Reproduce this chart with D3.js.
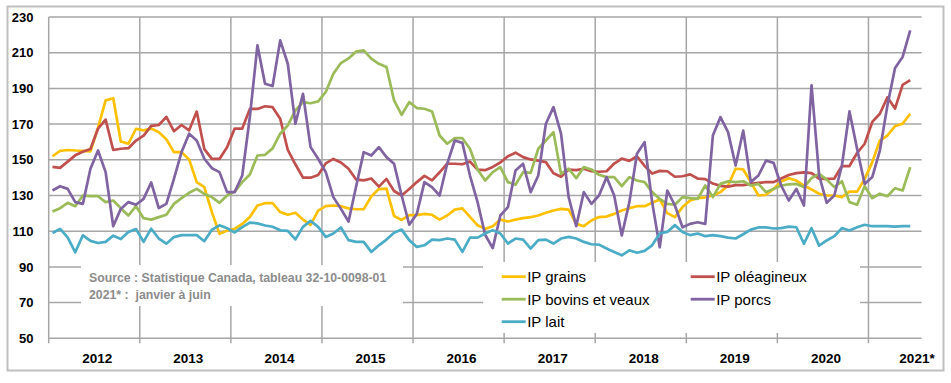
<!DOCTYPE html>
<html lang="fr">
<head>
<meta charset="utf-8">
<script src="https://cdn.jsdelivr.net/npm/d3@7"></script>
<style>
    body { margin: 0; background: #fff; }
    svg { display: block; font-family: "Liberation Sans", Arial, sans-serif; }
</style>
</head>
<body>
<div id="chart"></div>
<script>
// months from Jan 2012 to Jun 2021 (114), the axis keeps one empty slot at the end
const monthSlots = 115;
const yearLabels = ['2012', '2013', '2014', '2015', '2016', '2017', '2018', '2019', '2020', '2021*'];
const yTicks = [50, 70, 90, 110, 130, 150, 170, 190, 210, 230];

const ipGrains = [
    152, 155, 155.5, 155.2, 155, 154.7, 168, 183.3, 184.5, 160.3, 159, 167.4,
    166.5, 167.5, 165.5, 161.5, 154.3, 154.3, 150.2, 137.5, 134.7, 120.7, 108.5, 110.4,
    111.3, 114.1, 117.9, 124.4, 125.7, 125.7, 120.7, 119.2, 120.3, 116.5, 113.5, 121.5,
    124, 124.4, 124, 122.8, 122.3, 122.3, 129.5, 133.6, 133.8, 118.5, 116.3, 119,
    119, 119.7, 119.2, 116.5, 118.8, 122.1, 122.8, 118, 113.3, 111.3, 112.8, 116.5,
    115.4, 116.5, 117.3, 117.9, 118.8, 120.3, 121.6, 122.5, 122.1, 114.1, 112.8, 116,
    117.9, 118.2, 119.7, 121.6, 122.9, 124, 124, 125.9, 127.8, 120.1, 117.9, 123.5,
    127.2, 128.5, 129, 130, 131.9, 135.6, 145, 144.6, 137.5, 130, 130.4, 133.7,
    137.9, 139.7, 138.4, 135.6, 133.4, 131, 130, 130, 129.1, 132.2, 132.2, 139.3,
    148.7, 160.8, 163.6, 168.9, 170.2, 175.8
];
const ipOleagineux = [
    146, 145.5, 149, 152.5, 154.5, 156, 167.5, 172.5, 155.5, 156.2, 156.5, 160.8,
    163.5, 169, 169.5, 174, 166, 169.5, 166.5, 177, 156, 150.5, 150.5, 157,
    167.5, 167.5, 178.5, 178.5, 180, 179.5, 173, 155.5, 147.5, 140, 140, 141.5,
    148, 150.5, 148.5, 145, 139, 138.5, 139.5, 135, 139.3, 132.5, 130, 133.7,
    137.5, 141, 138.5, 143, 147.8, 147.8, 147.5, 149, 144.5, 144.2, 146, 148.5,
    152, 154, 151.5, 150.2, 149.5, 148.7, 142.5, 140.5, 144.5, 144.2, 145, 143.6,
    143.3, 143.6, 147.9, 150.7, 149.4, 152, 146.6, 142.3, 143.8, 143.6, 140.5, 140.8,
    141.8, 139.5, 139.2, 136.7, 135.4, 135, 135.8, 135.8, 136.5, 137.1, 137.5, 137.5,
    139.5, 141.5, 142.5, 143, 142.5, 139.5, 139.3, 139.5, 146.5, 146.5, 153.8, 159,
    171.2, 175.8, 185, 178.7, 192, 194.6
];
const ipBovins = [
    121, 122.9, 125.9, 124, 130, 129.6, 129.6, 126.3, 127.2, 122.9, 118.8, 124,
    117.3, 116.5, 117.9, 119.2, 125.3, 128.5, 131.5, 133.7, 130.9, 129.1, 125.9, 130,
    132.2, 137.5, 141.8, 152.4, 152.8, 156.4, 164.6, 169.3, 177.7, 182.3, 181.7, 182.7,
    188, 198.2, 204.2, 206.8, 210.6, 211.3, 206.7, 203.8, 202, 183.3, 175.2, 182.3,
    179, 178.6, 177.1, 163.6, 159, 162.1, 162.1, 156.2, 144.6, 138.4, 143.1, 145.9,
    137.5, 136, 143.1, 142.7, 156.2, 160.8, 165.5, 142.1, 145, 139.7, 145.9, 144.6,
    141.6, 140.3, 140.3, 135.2, 140.3, 138.4, 137.5, 131.9, 128.1, 125.3, 124.8, 129.1,
    128.5, 128.1, 135.6, 129.1, 136.5, 137.9, 137.5, 138, 135.6, 136.5, 131.9, 133.7,
    135.6, 136.2, 136.5, 134.7, 139.7, 142.1, 138.9, 134.7, 138, 126.3, 124.8, 135.2,
    128.5, 131, 129.6, 134.1, 132.8, 145.9
];
const ipPorcs = [
    132.8, 135.2, 133.7, 126.3, 125.3, 145, 155.2, 143.1, 112.8, 122.5, 126.3, 124.8,
    128.1, 137.3, 123, 125.3, 139.3, 154.3, 164.6, 160.8, 150.6, 145.3, 143.1, 131.9,
    131.9, 141.2, 174, 214.1, 192.6, 191.3, 216.9, 203.8, 170.2, 187, 157.1, 150.6,
    143.1, 129.1, 122.5, 115.4, 135, 154.3, 152.4, 157.1, 151.5, 147.8, 130, 113.6,
    119.7, 137.5, 134.7, 130, 147.8, 160.8, 159.5, 141.2, 126.3, 108, 100.5, 118.8,
    123.5, 144, 147.8, 131.9, 141.2, 170.2, 179.5, 164.6, 129.1, 112.8, 131.9, 125.3,
    130, 140.3, 130, 107.6, 126.3, 153.4, 159.9, 126.3, 101, 132.8, 124.4, 112.2,
    114.1, 115, 114.1, 163.6, 173.9, 165.5, 146.8, 166.4, 137.5, 141.2, 149.6, 148.3,
    135.6, 127.2, 133.7, 124.4, 191.7, 141.2, 125.9, 130, 146.8, 177.1, 156.2, 136.5,
    140.3, 155.2, 180.5, 201.4, 207.6, 222.5
];
const ipLait = [
    109, 111.3, 106.5, 98.2, 107.7, 104.6, 103.4, 104, 107.5, 105.6, 109.5, 111.2,
    104, 111.4, 105.9, 103, 106.7, 107.8, 107.8, 107.8, 104.4, 110.8, 113.3, 111.7,
    109.3, 112.3, 114.8, 114.4, 113.2, 112.5, 110.5, 110.2, 105.4, 112.4, 115.8, 112.4,
    106.8, 108.7, 112.1, 105, 104, 104, 98.4, 102.1, 105.3, 109.1, 110.9, 105,
    101.2, 102.1, 105.3, 105, 105.9, 105.3, 98.4, 106.4, 106.4, 108.7, 110.6, 108.7,
    103.1, 105.9, 105.3, 100.3, 105, 105.3, 103.1, 105.9, 106.8, 105.9, 104, 102.7,
    102.5, 100.3, 98.4, 96.5, 99.3, 97.9, 99, 102.1, 108.7, 109.6, 113.4, 109.6,
    107.8, 108.7, 107.2, 107.8, 107.2, 106.4, 105.9, 108.3, 110.9, 112.1, 112.1, 111.5,
    111.7, 112.6, 112.2, 103, 111.7, 101.9, 104.8, 107.2, 111.7, 110.4, 112.2, 113.6,
    112.8, 112.8, 112.8, 112.6, 112.8, 112.8
];

const seriesNames = ['IP grains', 'IP oléagineux', 'IP bovins et veaux', 'IP porcs', 'IP lait'];
const seriesColors = ['#FFC000', '#C0504D', '#9BBB59', '#8064A2', '#4BACC6'];
const seriesValues = [ipGrains, ipOleagineux, ipBovins, ipPorcs, ipLait];

const sourceLines = ['Source : Statistique Canada, tableau 32-10-0098-01', '2021* :  janvier à juin'];

document.addEventListener('DOMContentLoaded', () => {

    const width = 951;
    const height = 383;
    const gridColor = '#a6a6a6';

    const svg = d3.select('#chart')
        .append('svg')
        .attr('width', width)
        .attr('height', height);

    // --- 1. Outer frame ---
    svg.append('rect')
        .attr('x', 7.5).attr('y', 6.5)
        .attr('width', 936).attr('height', 364)
        .attr('fill', '#fff')
        .attr('stroke', '#bfbfbf')
        .attr('stroke-width', 2);

    // --- 2. Scales ---
    const x = d3.scaleLinear().domain([0, monthSlots]).range([48.7, 921.6]);
    const y = d3.scaleLinear().domain([50, 230]).range([338.3, 17]);

    // --- 3. Grid ---
    const grid = svg.append('g').attr('stroke', gridColor).attr('stroke-width', 1.5);

    grid.selectAll('.h')
        .data(yTicks)
        .enter()
        .append('line')
        .attr('x1', x(0)).attr('x2', x(monthSlots))
        .attr('y1', d => y(d)).attr('y2', d => y(d));

    // year boundaries, with the small tick below the axis
    grid.selectAll('.v')
        .data(yearLabels)
        .enter()
        .append('line')
        .attr('x1', (d, i) => x(i * 12)).attr('x2', (d, i) => x(i * 12))
        .attr('y1', y(230)).attr('y2', y(50) + 5);

    // y labels
    svg.append('g')
        .selectAll('text')
        .data(yTicks)
        .enter()
        .append('text')
        .attr('x', 33.5)
        .attr('y', d => y(d))
        .attr('dy', '0.36em')
        .attr('text-anchor', 'end')
        .attr('font-size', 13)
        .attr('font-weight', 'bold')
        .attr('fill', '#000')
        .text(d => d);

    // x labels, centred as if every year had 12 months
    svg.append('g')
        .selectAll('text')
        .data(yearLabels)
        .enter()
        .append('text')
        .attr('x', (d, i) => x(i * 12 + 6) + 3)
        .attr('y', 358)
        .attr('dy', '0.36em')
        .attr('text-anchor', 'middle')
        .attr('font-size', 13.5)
        .attr('font-weight', 'bold')
        .attr('fill', '#000')
        .text(d => d);

    // --- 4. Source note and legend boxes (they hide the grid) ---
    svg.append('rect')
        .attr('x', 81).attr('y', 265)
        .attr('width', 322).attr('height', 41)
        .attr('fill', '#fff');

    svg.append('g')
        .selectAll('text')
        .data(sourceLines)
        .enter()
        .append('text')
        .attr('x', 89)
        .attr('y', (d, i) => 282 + i * 16.5)
        .attr('font-size', 12.3)
        .attr('font-weight', 'bold')
        .attr('fill', '#8c8c8c')
        .attr('xml:space', 'preserve')
        .text(d => d);

    svg.append('rect')
        .attr('x', 483).attr('y', 262)
        .attr('width', 377).attr('height', 71)
        .attr('fill', '#fff');

    const legend = svg.append('g')
        .selectAll('g')
        .data(seriesNames)
        .enter()
        .append('g')
        .attr('transform', (d, i) => `translate(${i % 2 ? 690.7 : 501.7},${276.7 + Math.floor(i / 2) * 22.5})`);

    legend.append('line')
        .attr('x1', 0).attr('x2', 24)
        .attr('stroke', (d, i) => seriesColors[i])
        .attr('stroke-width', 2.8);

    legend.append('text')
        .attr('x', 25.5)
        .attr('dy', '0.36em')
        .attr('font-size', 15)
        .attr('fill', '#000')
        .text(d => d);

    // --- 5. Series lines ---
    const line = d3.line()
        .x((d, i) => x(i + 0.5))
        .y(d => y(d));

    svg.append('g')
        .selectAll('path')
        .data(seriesValues)
        .enter()
        .append('path')
        .attr('d', d => line(d))
        .attr('fill', 'none')
        .attr('stroke', (d, i) => seriesColors[i])
        .attr('stroke-width', 2.7)
        .attr('stroke-linejoin', 'round');
});
</script>
</body>
</html>
